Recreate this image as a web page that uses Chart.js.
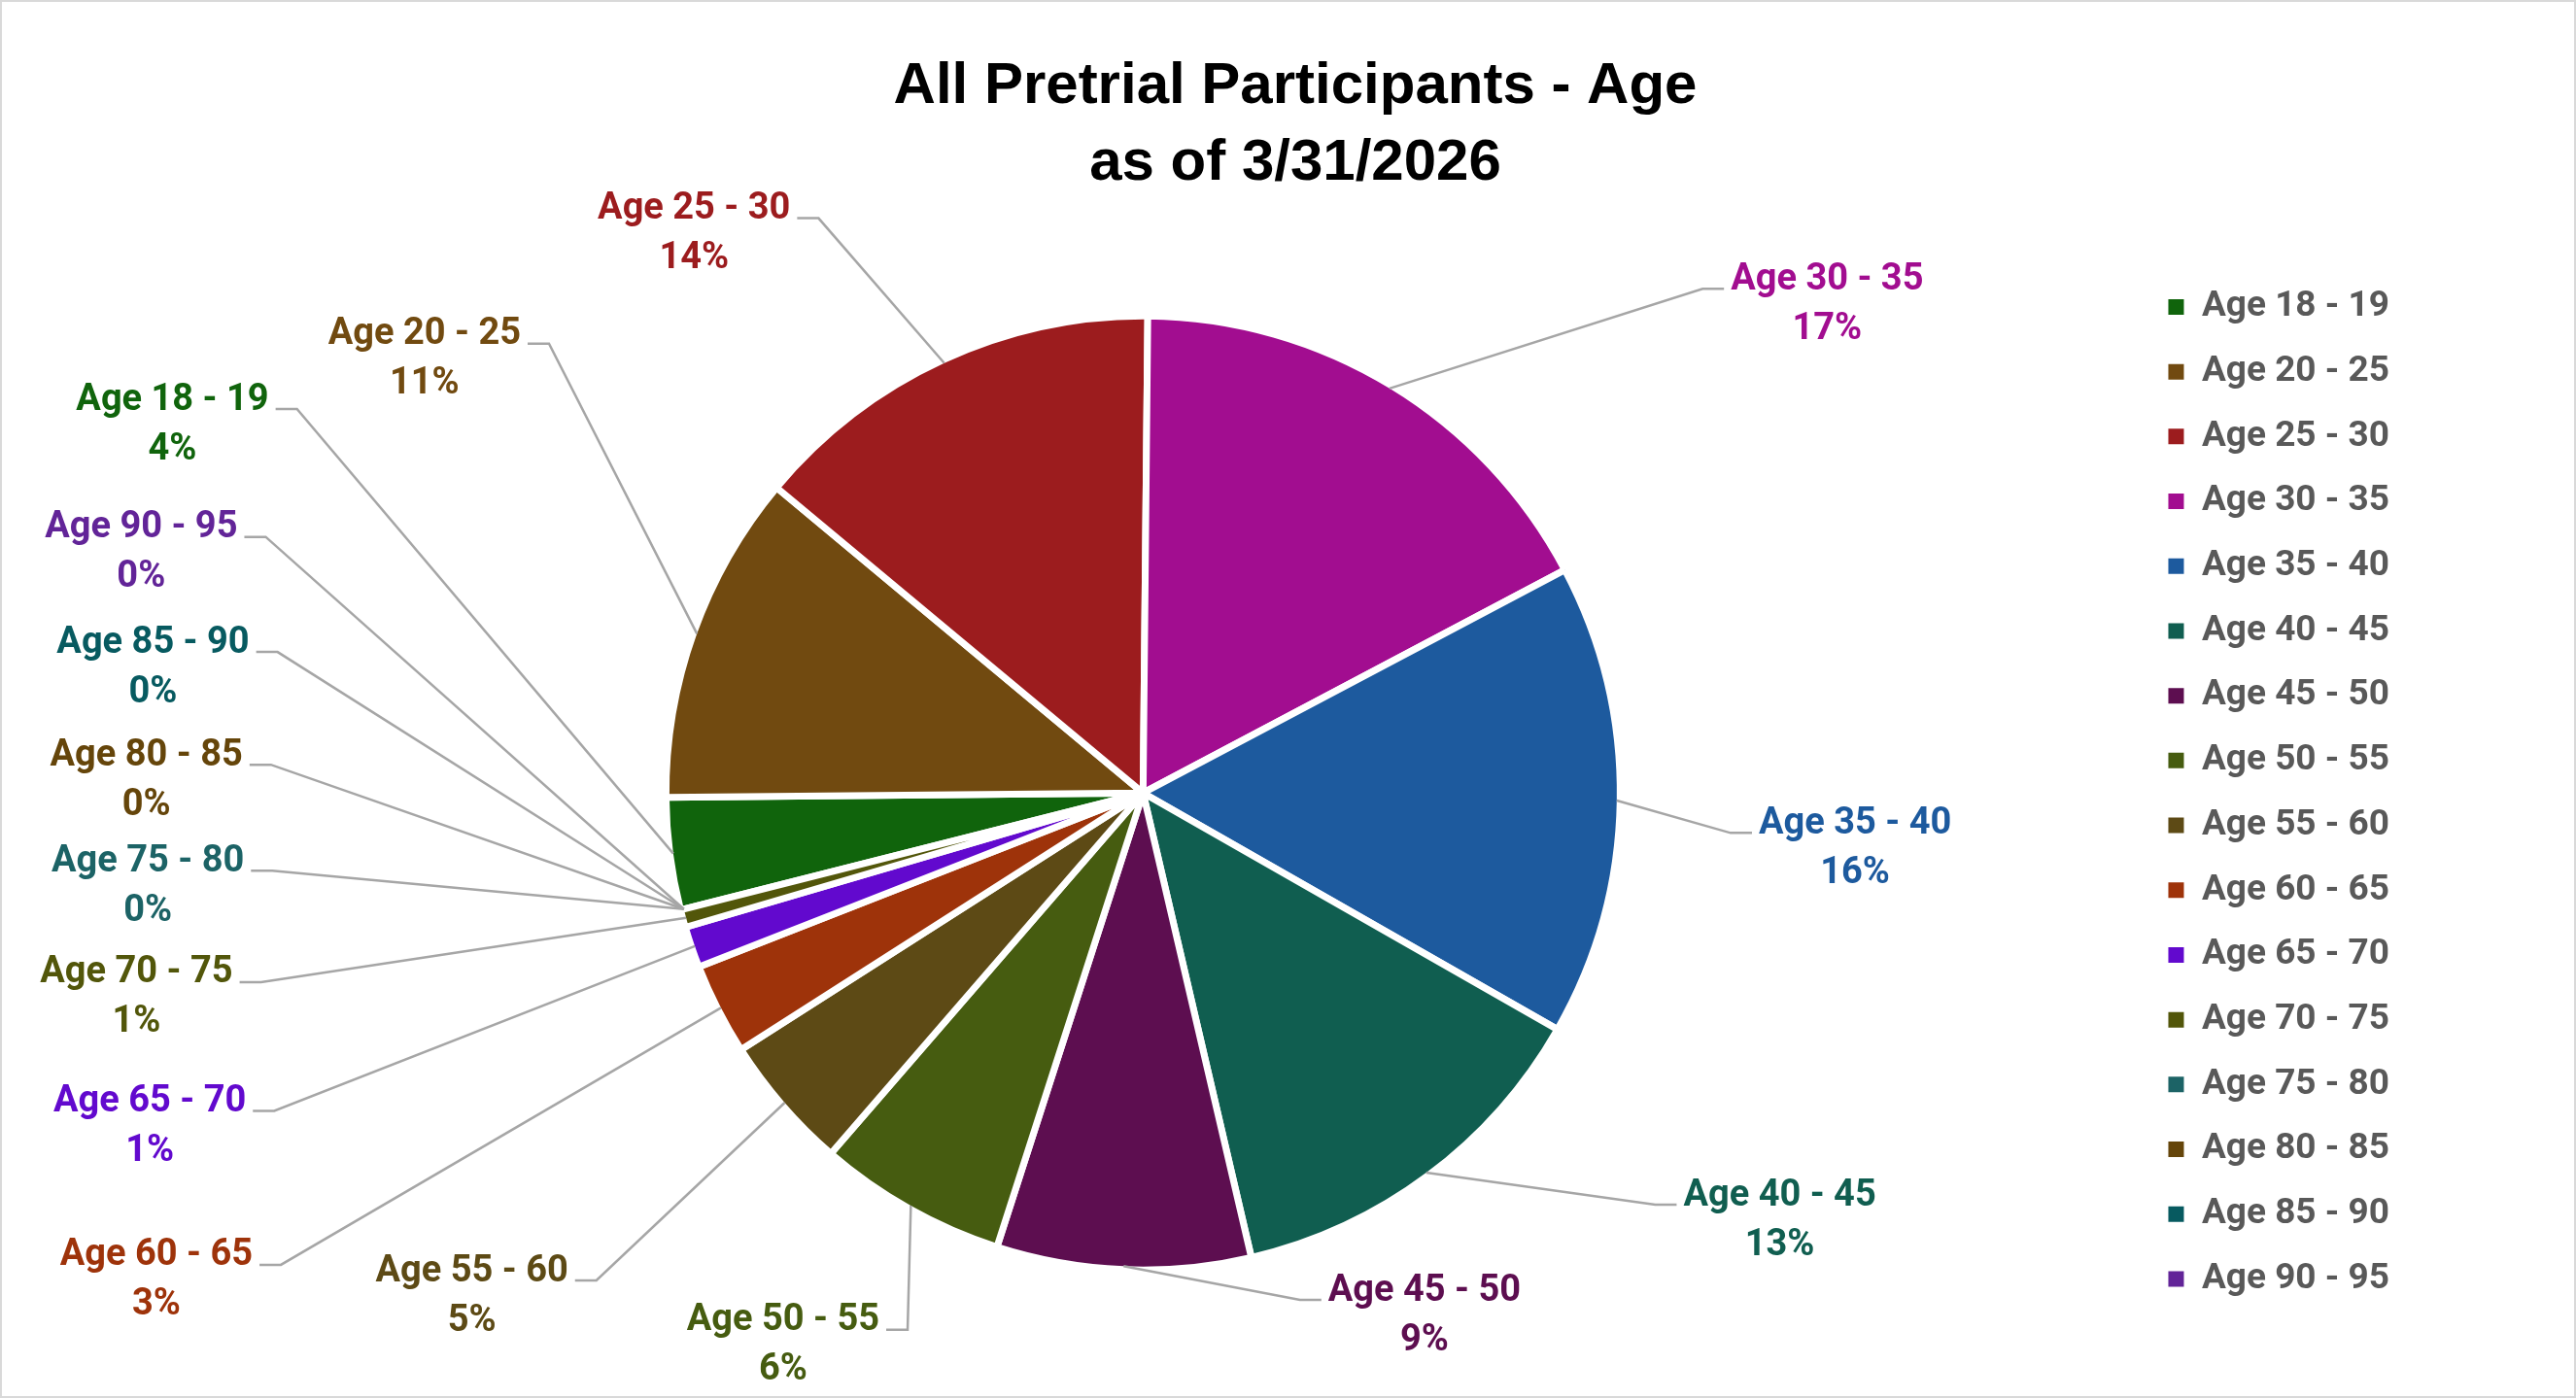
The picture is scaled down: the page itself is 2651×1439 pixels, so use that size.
<!DOCTYPE html>
<html>
<head>
<meta charset="utf-8">
<title>All Pretrial Participants - Age</title>
<script src="https://cdn.jsdelivr.net/npm/chart.js@4.4.1/dist/chart.umd.min.js"></script>
<style>
    html, body { margin: 0; padding: 0; background: #fff; overflow: hidden; }
    canvas { display: block; }
</style>
</head>
<body>
<canvas id="age-chart" width="2651" height="1439"></canvas>
<script>
// age buckets, in legend order
const ageGroups = [
    'Age 18 - 19', 'Age 20 - 25', 'Age 25 - 30', 'Age 30 - 35',
    'Age 35 - 40', 'Age 40 - 45', 'Age 45 - 50', 'Age 50 - 55',
    'Age 55 - 60', 'Age 60 - 65', 'Age 65 - 70', 'Age 70 - 75',
    'Age 75 - 80', 'Age 80 - 85', 'Age 85 - 90', 'Age 90 - 95'
];

// participants per bucket
const participants = [38, 112, 141, 171, 160, 131, 86, 64, 46, 31, 14, 6, 0, 0, 0, 0];

const sliceColors = [
    '#10640C', '#714A10', '#9C1C1E', '#A20D90',
    '#1D5A9E', '#105E50', '#5D0E50', '#465C10',
    '#5D4A15', '#9E330A', '#6209CE', '#52560A',
    '#1C6366', '#65450A', '#075A60', '#622498'
];

const chartTitle = ['All Pretrial Participants - Age', 'as of 3/31/2026'];

// where each data label sits, relative to the pie centre, in pie radii
const labelSpots = [
    [-2.049, -0.786], [-1.517, -0.924], [-0.948, -1.189], [1.444, -1.040],
    [1.503, 0.109], [1.344, 0.894], [0.594, 1.095], [-0.760, 1.158],
    [-1.417, 1.054], [-2.083, 1.021], [-2.097, 0.696], [-2.125, 0.424],
    [-2.101, 0.189], [-2.104, -0.035], [-2.090, -0.273], [-2.115, -0.516]
];

const labelFont = 'bold 38px Roboto';

// white page with a thin grey frame
const chartFrame = {
    id: 'chartFrame',
    beforeDraw(chart) {
        const c = chart.ctx;
        c.save();
        c.fillStyle = '#ffffff';
        c.fillRect(0, 0, chart.width, chart.height);
        c.strokeStyle = '#D9D9D9';
        c.lineWidth = 2;
        c.strokeRect(1, 1, chart.width - 2, chart.height - 2);
        c.restore();
    }
};

// outside labels with leader lines
const sliceLabels = {
    id: 'sliceLabels',
    afterDatasetsDraw(chart) {
        const c = chart.ctx;
        const meta = chart.getDatasetMeta(0);
        const values = chart.data.datasets[0].data;
        const total = values.reduce((a, b) => a + b, 0);
        const bw = chart.data.datasets[0].borderWidth;
        c.save();
        c.font = labelFont;
        c.textAlign = 'center';
        c.textBaseline = 'middle';
        meta.data.forEach((arc, i) => {
            const p = arc.getProps(['x', 'y', 'startAngle', 'endAngle', 'outerRadius'], true);
            const r = p.outerRadius - bw / 2;
            const mid = (p.startAngle + p.endAngle) / 2;
            const sx = p.x + Math.cos(mid) * r;
            const sy = p.y + Math.sin(mid) * r;
            const cx = p.x + labelSpots[i][0] * r;
            const cy = p.y + labelSpots[i][1] * r;
            const line1 = ageGroups[i];
            const line2 = Math.round(values[i] / total * 100) + '%';
            const w = c.measureText(line1).width;
            const side = labelSpots[i][0] < 0 ? 1 : -1;
            const ex = cx + side * (w / 2 + 7);
            const ey = cy - 12;
            const kx = ex + side * 22;

            c.strokeStyle = '#A6A6A6';
            c.lineWidth = 2.5;
            c.beginPath();
            c.moveTo(sx, sy);
            c.lineTo(kx, ey);
            c.lineTo(ex, ey);
            c.stroke();

            c.fillStyle = sliceColors[i];
            c.fillText(line1, cx, cy - 21);
            c.fillText(line2, cx, cy + 30);
        });
        c.restore();
    }
};

const ctx = document.getElementById('age-chart').getContext('2d');

new Chart(ctx, {
    type: 'pie',
    data: {
        labels: ageGroups,
        datasets: [{
            data: participants,
            backgroundColor: sliceColors,
            borderColor: '#ffffff',
            borderWidth: 7
        }]
    },
    options: {
        responsive: false,
        animation: false,
        devicePixelRatio: 1,
        events: [],
        rotation: -104.2,
        radius: 491,
        layout: {
            padding: { left: 151, right: 136, top: 0, bottom: 40 }
        },
        plugins: {
            title: {
                display: true,
                text: chartTitle,
                color: '#000000',
                font: { family: 'Liberation Sans', size: 60, weight: 'bold', lineHeight: 1.32 },
                padding: { top: 50, bottom: 25 }
            },
            legend: {
                position: 'right',
                fullSize: false,
                labels: {
                    color: '#595959',
                    font: { family: 'Roboto', size: 37, weight: 'bold' },
                    boxWidth: 16,
                    boxHeight: 16,
                    padding: 29.7,
                    generateLabels(chart) {
                        const items = Chart.overrides.pie.plugins.legend.labels.generateLabels(chart);
                        // solid swatches (no slice border); trailing gap keeps the column wide
                        items.forEach(item => {
                            item.lineWidth = 0;
                            item.text = item.text + '\u00A0\u00A0\u00A0\u00A0\u00A0';
                        });
                        return items;
                    }
                }
            },
            tooltip: { enabled: false }
        }
    },
    plugins: [chartFrame, sliceLabels]
});
</script>
</body>
</html>
